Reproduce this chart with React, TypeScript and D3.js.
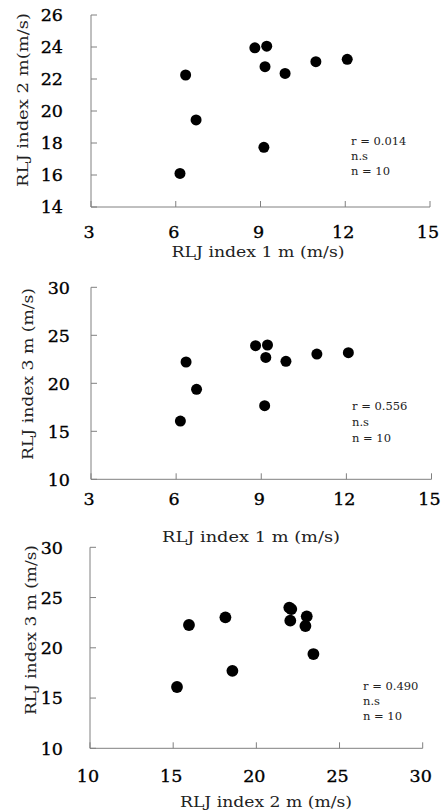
import React, { useEffect, useRef } from 'react';
import * as d3 from 'd3';

const W = 445;
const H = 811;

// panel 1 & 2 share x (RLJ index 1 m)
const index1 = [6.15, 6.35, 6.72, 8.8, 9.22, 9.16, 9.12, 9.87, 10.96, 12.07];
const index2 = [16.1, 22.25, 19.44, 23.95, 24.05, 22.77, 17.73, 22.35, 23.08, 23.23];
const index3 = [16.07, 22.22, 19.37, 23.92, 23.99, 22.7, 17.67, 22.29, 23.05, 23.19];
// panel 3
const index2b = [15.23, 15.95, 18.14, 18.56, 21.98, 22.1, 22.04, 23.03, 22.95, 23.43];
const index3b = [16.1, 22.27, 23.03, 17.71, 24.0, 23.85, 22.7, 23.13, 22.17, 19.38];

const ticks1x = [3, 6, 9, 12, 15];
const ticks1y = [14, 16, 18, 20, 22, 24, 26];
const ticks2y = [10, 15, 20, 25, 30];
const ticks3x = [10, 15, 20, 25, 30];

const stats1 = ['r = 0.014', 'n.s', 'n = 10'];
const stats2 = ['r = 0.556', 'n.s', 'n = 10'];
const stats3 = ['r = 0.490', 'n.s', 'n  = 10'];

const serif = '"DejaVu Serif", serif';
const axisColor = '#808080';

const panels = [
  {
    xs: index1, ys: index2, xt: ticks1x, yt: ticks1y,
    left: 91, right: 430, top: 15, bottom: 207, r: 5.5,
    xTitle: 'RLJ index 1 m (m/s)', yTitle: 'RLJ index 2 m(m/s)',
    xTitleX: 258, xTitleY: 257, xTitleW: 173,
    yTitleX: 28, yTitleY: 100, yTitleW: 174,
    tickLabelRight: 63, xTickY: 238,
    stats: stats1, statX: 351, statY: 145, statGap: 15,
  },
  {
    xs: index1, ys: index3, xt: ticks1x, yt: ticks2y,
    left: 91, right: 431.5, top: 287.3, bottom: 479.3, r: 5.5,
    xTitle: 'RLJ index 1 m (m/s)', yTitle: 'RLJ index 3 m (m/s)',
    xTitleX: 251, xTitleY: 542, xTitleW: 178,
    yTitleX: 33, yTitleY: 374, yTitleW: 172,
    tickLabelRight: 70, xTickY: 505,
    stats: stats2, statX: 352, statY: 410, statGap: 16,
  },
  {
    xs: index2b, ys: index3b, xt: ticks3x, yt: ticks2y,
    left: 90, right: 422.7, top: 547.3, bottom: 748.3, r: 5.9,
    xTitle: 'RLJ index 2 m (m/s)', yTitle: 'RLJ index 3 m (m/s)',
    xTitleX: 266, xTitleY: 807, xTitleW: 172,
    yTitleX: 36, yTitleY: 630, yTitleW: 170,
    tickLabelRight: 63, xTickY: 782,
    stats: stats3, statX: 363, statY: 690, statGap: 15,
  },
];

export default function App() {
  const ref = useRef<SVGSVGElement | null>(null);

  useEffect(() => {
    const svg = d3.select(ref.current);
    svg.selectAll('*').remove();

    panels.forEach((p) => {
      const x = d3.scaleLinear()
        .domain([p.xt[0], p.xt[p.xt.length - 1]])
        .range([p.left, p.right]);
      const y = d3.scaleLinear()
        .domain([p.yt[0], p.yt[p.yt.length - 1]])
        .range([p.bottom, p.top]);

      const g = svg.append('g');

      // axes lines
      g.append('line')
        .attr('x1', p.left).attr('x2', p.left)
        .attr('y1', p.top).attr('y2', p.bottom)
        .attr('stroke', axisColor);
      g.append('line')
        .attr('x1', p.left).attr('x2', p.right)
        .attr('y1', p.bottom).attr('y2', p.bottom)
        .attr('stroke', axisColor);

      // inward ticks
      g.selectAll('.yt')
        .data(p.yt)
        .join('line')
        .attr('x1', p.left).attr('x2', p.left + 6)
        .attr('y1', d => y(d)).attr('y2', d => y(d))
        .attr('stroke', axisColor);
      g.selectAll('.xt')
        .data(p.xt)
        .join('line')
        .attr('x1', d => x(d)).attr('x2', d => x(d))
        .attr('y1', p.bottom).attr('y2', p.bottom - 6)
        .attr('stroke', axisColor);

      // tick labels
      g.selectAll('.ytl')
        .data(p.yt)
        .join('text')
        .attr('x', p.tickLabelRight)
        .attr('y', d => y(d))
        .attr('dy', '0.36em')
        .attr('text-anchor', 'end')
        .attr('stroke', '#000')
        .attr('stroke-width', 0.35)
        .style('font', `17.5px ${serif}`)
        .text(d => d);
      g.selectAll('.xtl')
        .data(p.xt)
        .join('text')
        .attr('x', d => x(d) - 2)
        .attr('y', p.xTickY)
        .attr('text-anchor', 'middle')
        .attr('stroke', '#000')
        .attr('stroke-width', 0.35)
        .style('font', `17.5px ${serif}`)
        .text(d => d);

      // axis titles
      g.append('text')
        .attr('x', p.xTitleX)
        .attr('y', p.xTitleY)
        .attr('text-anchor', 'middle')
        .attr('textLength', p.xTitleW)
        .attr('lengthAdjust', 'spacingAndGlyphs')
        .style('font', `15px ${serif}`)
        .attr('fill', '#222')
        .text(p.xTitle);
      g.append('text')
        .attr('transform', `translate(${p.yTitleX},${p.yTitleY}) rotate(-90)`)
        .attr('text-anchor', 'middle')
        .attr('textLength', p.yTitleW)
        .attr('lengthAdjust', 'spacingAndGlyphs')
        .style('font', `15px ${serif}`)
        .attr('fill', '#222')
        .text(p.yTitle);

      // stats
      g.selectAll('.st')
        .data(p.stats)
        .join('text')
        .attr('x', p.statX)
        .attr('y', (_, i) => p.statY + i * p.statGap)
        .style('font', `11.5px ${serif}`)
        .attr('fill', '#222')
        .text(d => d);

      // points
      g.selectAll('circle')
        .data(p.xs.map((v, i) => [v, p.ys[i]]))
        .join('circle')
        .attr('cx', d => x(d[0]))
        .attr('cy', d => y(d[1]))
        .attr('r', p.r)
        .attr('fill', '#000');
    });
  }, []);

  return (
    <svg
      ref={ref}
      width={W}
      height={H}
      style={{ position: 'absolute', left: 0, top: 0, background: '#fff' }}
    />
  );
}
